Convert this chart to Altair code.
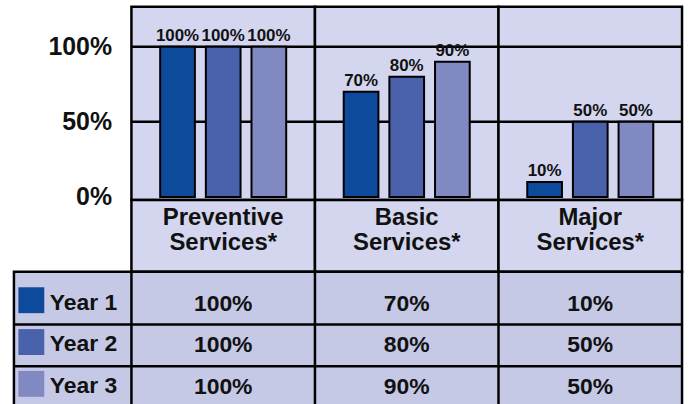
import altair as alt
import pandas as pd

# ---- data ----
categories = ["Preventive Services*", "Basic Services*", "Major Services*"]
years = ["Year 1", "Year 2", "Year 3"]
year1 = [100, 70, 10]
year2 = [100, 80, 50]
year3 = [100, 90, 50]
y_ticks = [0, 50, 100]
grid_values = [50, 100]
colors = ["#0d4a9c", "#4a62ab", "#8189c2"]

FONT = "Liberation Sans"
TOP_BG = "#d3d6ee"
TABLE_BG = "#c5c9e6"
INK = "#111111"
W = 671

rows = []
for yr, vals in zip(years, [year1, year2, year3]):
    for c, v in zip(categories, vals):
        rows.append({"category": c, "year": yr, "value": v, "label": f"{v}%"})
df = pd.DataFrame(rows)
cat_df = pd.DataFrame({"category": categories,
                       "header": [c.replace(" ", "\n") for c in categories]})
grid_df = pd.DataFrame([{"category": c, "value": g} for c in categories for g in grid_values])
leg_df = pd.DataFrame({"year": years, "slot": ["legend"] * len(years)})

# ---- scales ----
cat_scale = alt.Scale(type="band", domain=categories, range=[118, W], paddingInner=0, paddingOuter=0)
off_scale = alt.Scale(type="band", domain=years, paddingInner=0.24, paddingOuter=0.63)
y_scale = alt.Scale(domain=[-2, 126.5], nice=False, zero=False)
color_scale = alt.Scale(domain=years, range=colors)
row_scale = alt.Scale(type="band", domain=years, range=[11, 137], paddingInner=0, paddingOuter=0)
leg_scale = alt.Scale(type="band", domain=["legend"], range=[0, 118], paddingInner=0, paddingOuter=0)

X = alt.X("category:N", scale=cat_scale, axis=None)

y_axis = alt.Axis(values=y_ticks, labelExpr="datum.value + '%'", offset=-118, labelPadding=20,
                  ticks=False, domain=False, grid=False, title=None, labelFont=FONT,
                  labelFontSize=25, labelFontWeight="bold", labelColor=INK)
Y = alt.Y("value:Q", scale=y_scale, axis=y_axis)

# ---- top: bars ----
bg = alt.Chart(cat_df).mark_rect(fill=TOP_BG, stroke="black", strokeWidth=2.5).encode(x=X)
grid = alt.Chart(grid_df).mark_rect(fill="transparent", stroke="black", strokeWidth=2.5).encode(
    x=X, y=Y, y2="value:Q")
bars = alt.Chart(df).mark_bar(stroke="black", strokeWidth=2).encode(
    x=X,
    xOffset=alt.XOffset("year:N", scale=off_scale),
    y=Y,
    color=alt.Color("year:N", scale=color_scale, legend=None),
)
bar_labels = alt.Chart(df).mark_text(baseline="alphabetic", dy=-6, font=FONT, fontSize=17,
                                     fontWeight="bold", color=INK).encode(
    x=X, xOffset=alt.XOffset("year:N", scale=off_scale), y=Y, text="label:N")
top = alt.layer(bg, grid, bars, bar_labels).properties(
    width=W, height=194, view=alt.ViewBackground(stroke="transparent"))

# ---- header row ----
hdr_bg = alt.Chart(cat_df).mark_rect(fill=TOP_BG, stroke="black", strokeWidth=2.5).encode(x=X)
hdr_txt = alt.Chart(cat_df).mark_text(lineBreak="\n", lineHeight=25.5, dy=-18, font=FONT, fontSize=24,
                                      fontWeight="bold", color=INK).encode(x=X, text="header:N")
header = alt.layer(hdr_bg, hdr_txt).properties(
    width=W, height=72, view=alt.ViewBackground(stroke="transparent"))

# ---- table ----
col_lines = alt.Chart(cat_df).mark_rule(color="black", strokeWidth=2.5).encode(
    x=alt.X("category:N", scale=cat_scale, bandPosition=0, axis=None))
row_lines = alt.Chart(leg_df.iloc[1:]).mark_rule(color="black", strokeWidth=2.5).encode(
    y=alt.Y("year:N", scale=row_scale, bandPosition=0, axis=None))
cell_txt = alt.Chart(df).mark_text(font=FONT, fontSize=23, fontWeight="bold", color=INK).encode(
    x=X, y=alt.Y("year:N", scale=row_scale, axis=None), text="label:N")
swatch = alt.Chart(leg_df).mark_square(size=676, opacity=1).encode(
    x=alt.X("slot:N", scale=leg_scale, bandPosition=0.148, axis=None),
    y=alt.Y("year:N", scale=row_scale, bandPosition=0.42, axis=None),
    color=alt.Color("year:N", scale=color_scale, legend=None))
leg_txt = alt.Chart(leg_df).mark_text(align="left", font=FONT, fontSize=23, fontWeight="bold",
                                      color=INK, dy=-1).encode(
    x=alt.X("slot:N", scale=leg_scale, bandPosition=0.305, axis=None),
    y=alt.Y("year:N", scale=row_scale, axis=None), text="year:N")
table = alt.layer(col_lines, row_lines, cell_txt, swatch, leg_txt).resolve_scale(
    x="independent").properties(
    width=W, height=136,
    view=alt.ViewBackground(fill=TABLE_BG, stroke="black", strokeWidth=2.5))

chart = alt.vconcat(top, header, table, spacing=0, bounds="flush").properties(
    padding={"left": 11, "top": 4, "right": 4, "bottom": -5}
).configure_view(strokeWidth=0)

chart.save("out.html", embed_options={"renderer": "svg", "actions": False})
